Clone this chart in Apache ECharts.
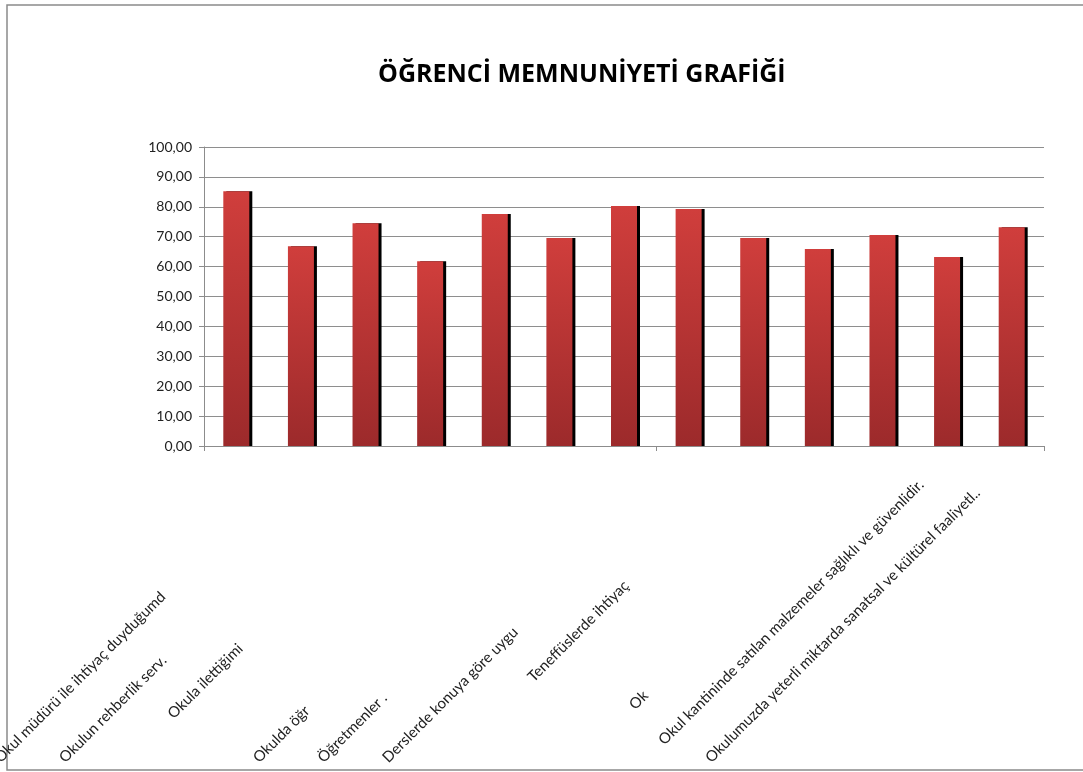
<!DOCTYPE html>
<html>
<head>
<meta charset="utf-8">
<script src="https://cdn.jsdelivr.net/npm/echarts@6/dist/echarts.min.js"></script>
<style>
    html,body{margin:0;padding:0;background:#fff;}
    #chart{width:1083px;height:772px;}
</style>
</head>
<body>
<div id="chart"></div>
<script>
    // kategoriler (13 soru), grafikte gorunen kesik etiketler
    var categories = [
        'Okul müdürü ile ihtiyaç duyduğumd',
        'Okulun rehberlik serv.',
        'Okula ilettiğimi',
        '',
        'Okulda öğr',
        'Öğretmenler .',
        'Derslerde konuya göre uygu',
        'Teneffüslerde ihtiyaç',
        '',
        'Ok',
        'Okul kantininde satılan malzemeler sağlıklı ve güvenlidir.',
        'Okulumuzda yeterli miktarda sanatsal ve kültürel faaliyetl..',
        ''
    ];
    var memnuniyet = [85.2, 66.8, 74.5, 61.8, 77.6, 69.6, 80.3, 79.3, 69.6, 65.9, 70.6, 63.2, 73.2];
    var yTicks = [0, 10, 20, 30, 40, 50, 60, 70, 80, 90, 100];

    // etiketlerin cizgi boyunca kaymasi (rich stil adi)
    var shiftStyle = ['a', 'a', 'c', 'a', 'a', 'a', 'a', 'e', 'a', 'd', 'b', 'a', 'a'];

    var font = 'Lato, "Open Sans", sans-serif';
    var lblSize = 15;

    var option = {
        animation: false,
        title: {
            text: 'ÖĞRENCİ MEMNUNİYETİ GRAFİĞİ',
            left: 373,
            top: 57,
            textStyle: {fontFamily: '"Open Sans", sans-serif', fontSize: 25, fontWeight: 'bold', color: '#000'}
        },
        graphic: [{
            type: 'rect',
            shape: {x: 7, y: 5, width: 1100, height: 765},
            style: {fill: 'none', stroke: '#8a8a8a', lineWidth: 1.5},
            silent: true
        }],
        grid: [
            {left: 204, right: 39, top: 147, bottom: 326, outerBoundsMode: 'none'},
            {left: -35, width: 840, top: 700, bottom: 12, outerBoundsMode: 'none'}
        ],
        xAxis: [{
            type: 'category',
            gridIndex: 0,
            data: categories,
            axisLine: {lineStyle: {color: '#8c8c8c'}},
            axisTick: {show: true, length: 5, lineStyle: {color: '#8c8c8c'}},
            axisLabel: {show: false}
        }, {
            type: 'category',
            gridIndex: 1,
            data: categories,
            axisLine: {show: false},
            axisTick: {show: false},
            axisLabel: {
                interval: 0,
                rotate: 45,
                align: 'left',
                margin: 0,
                hideOverlap: false,
                fontFamily: font,
                fontSize: lblSize,
                color: '#222',
                formatter: function (v, i) {
                    if (!v) return '';
                    return '{' + shiftStyle[i] + '|' + v + '}';
                },
                rich: {
                    a: {fontFamily: font, fontSize: lblSize, color: '#222'},
                    b: {fontFamily: font, fontSize: lblSize, color: '#222', padding: [0, 0, 0, 25]},
                    c: {fontFamily: font, fontSize: lblSize, color: '#222', padding: [0, 0, 0, 62]},
                    d: {fontFamily: font, fontSize: lblSize, color: '#222', padding: [0, 0, 0, 75]},
                    e: {fontFamily: font, fontSize: lblSize, color: '#222', padding: [0, 0, 0, 114]}
                }
            }
        }],
        yAxis: [{
            type: 'value',
            gridIndex: 0,
            min: yTicks[0],
            max: yTicks[yTicks.length - 1],
            interval: 10,
            axisLine: {show: true, lineStyle: {color: '#8c8c8c'}},
            axisTick: {show: true, length: 5, lineStyle: {color: '#8c8c8c'}},
            splitLine: {lineStyle: {color: '#8e8e8e', width: 1}},
            axisLabel: {
                fontFamily: font,
                fontSize: 14,
                color: '#222',
                margin: 12,
                formatter: function (v) {
                    return v.toFixed(2).replace('.', ',');
                }
            }
        }, {
            type: 'value',
            gridIndex: 1,
            show: false
        }],
        series: [{
            type: 'bar',
            xAxisIndex: 0,
            yAxisIndex: 0,
            data: memnuniyet,
            barWidth: 26,
            itemStyle: {
                color: new echarts.graphic.LinearGradient(0, 0, 0, 1, [
                    {offset: 0, color: '#d03e3c'},
                    {offset: 1, color: '#9c2a2b'}
                ]),
                shadowColor: '#000',
                shadowOffsetX: 3,
                shadowOffsetY: 0,
                shadowBlur: 0
            }
        }]
    };

    var myChart = echarts.init(document.getElementById('chart'));
    myChart.setOption(option);
</script>
</body>
</html>
